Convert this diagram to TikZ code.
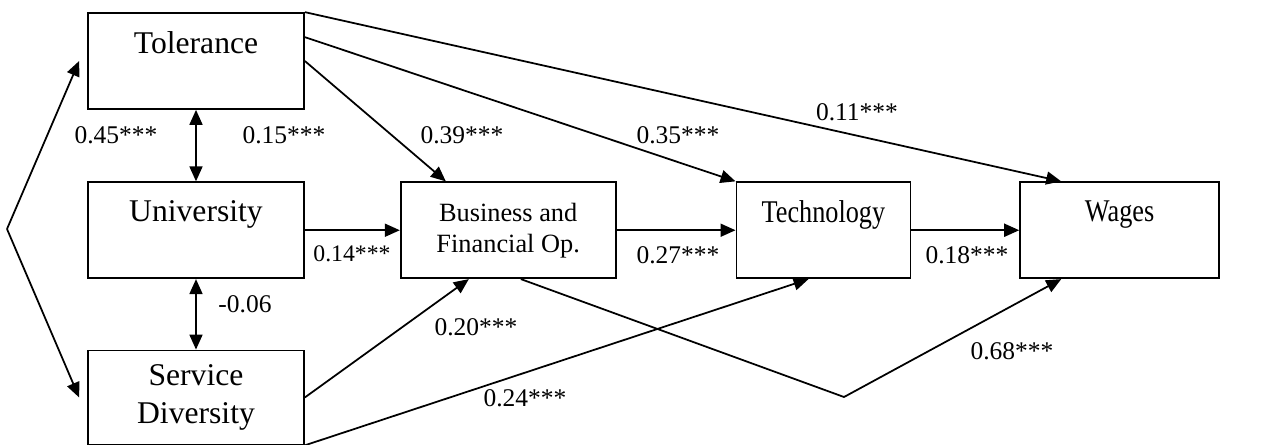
\documentclass[tikz,border=0pt]{standalone}
\usepackage{fontspec}
\setmainfont{Liberation Serif}
\usetikzlibrary{arrows.meta,positioning,calc}
\newcommand{\narrowtext}[1]{\scalebox{0.83}[1]{#1}}

\begin{document}
\begin{tikzpicture}[
  x=0.02cm, y=-0.02cm,
  box/.style={draw, line width=1pt, align=center, inner sep=0pt, minimum height=1.92cm, font=\fontsize{18}{21.6}\selectfont},
  lbl/.style={inner sep=0pt, font=\fontsize{14.5}{17}\selectfont},
  arr/.style={-{Triangle[length=0.3cm, width=0.26cm]}, line width=1pt},
  dbl/.style={{Triangle[length=0.3cm, width=0.26cm]}-{Triangle[length=0.3cm, width=0.26cm]}, line width=1pt},
  node distance=1.43cm
]
\useasboundingbox (0,0) rectangle (1268,444);
\node[box, minimum width=4.32cm] (tol) at (196,61) {Tolerance\\~};
\node[box, minimum width=4.32cm, below=of tol] (uni) {University\\~};
\node[box, minimum width=4.32cm, minimum height=1.88cm, below=1.41cm of uni] (srv) {Service\\Diversity};
\node[box, minimum width=4.3cm, right=1.9cm of uni, font=\fontsize{15}{17.6}\selectfont] (bus) {Business and\\Financial Op.};
\node[box, minimum width=3.48cm, right=2.38cm of bus] (tech) {\narrowtext{Technology}\\~};
\node[box, minimum width=3.98cm, right=2.16cm of tech] (wag) {\narrowtext{Wages}\\~};
% paths from tolerance
\draw[arr] (tol.north east) -- ($(wag.north west)+(42,0)$);
\draw[arr] ($(tol.north east)+(0,25)$) -- (tech.north west);
\draw[arr] (tol.east) -- ($(bus.north west)+(46,0)$);
% main chain
\draw[arr] (uni.east) -- (bus.west);
\draw[arr] (bus.east) -- (tech.west);
\draw[arr] (tech.east) -- (wag.west);
% paths from service diversity
\draw[arr] (srv.east) -- ($(bus.south west)+(69,0)$);
\draw[arr] (srv.south east) -- ($(tech.south west)+(73,0)$);
\coordinate (bend) at (844,397);
\draw[arr] ($(bus.south west)+(121,0)$) -- (bend) -- ($(wag.south west)+(42,0)$);
% correlations
\draw[dbl] (tol.south) -- (uni.north);
\draw[dbl] (uni.south) -- (srv.north);
\coordinate (cv) at (7,229);
\draw[arr] (cv) -- ($(tol.west)+(-8,0)$);
\draw[arr] (cv) -- ($(srv.west)+(-8,0)$);
% coefficients
\node[lbl] (l45) at (116,135) {0.45***};
\node[lbl] (l15) at (284,135) {0.15***};
\node[lbl] (l06) at (245,304) {-0.06};
\node[lbl, font=\fontsize{13.5}{16}\selectfont] (l14) at (352,254) {0.14***};
\node[lbl] (l39) at (462,135) {0.39***};
\node[lbl] (l35) at (678,135) {0.35***};
\node[lbl] (l11) at (857,112) {0.11***};
\node[lbl] (l27) at (678,255) {0.27***};
\node[lbl] (l18) at (967,255) {0.18***};
\node[lbl] (l20) at (476,327) {0.20***};
\node[lbl] (l24) at (525,398) {0.24***};
\node[lbl] (l68) at (1012,351) {0.68***};
\end{tikzpicture}
\end{document}
